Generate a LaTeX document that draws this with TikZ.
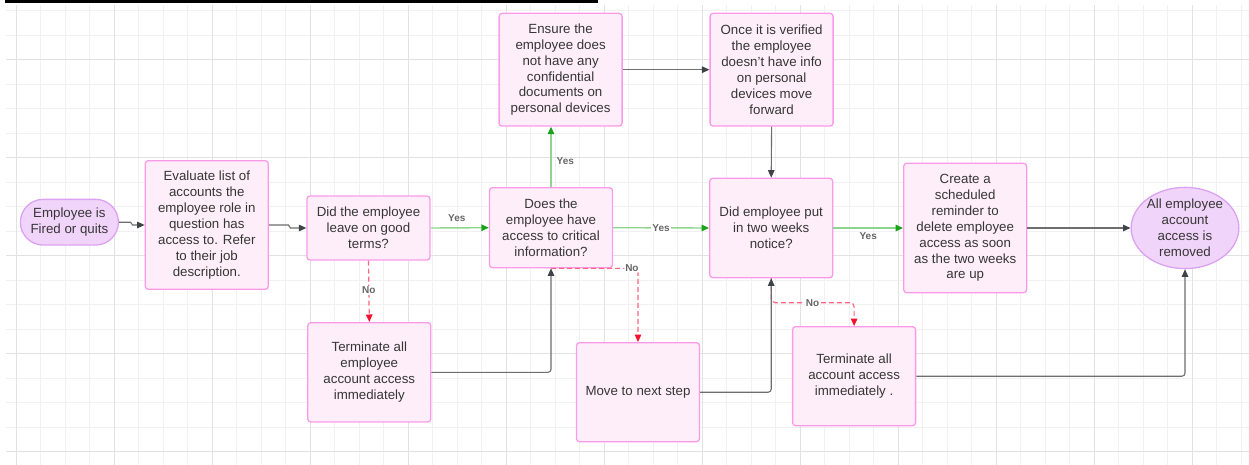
\documentclass[tikz,border=0pt]{standalone}
\usepackage{fontspec}
\setmainfont{Liberation Sans}
\usetikzlibrary{arrows.meta,shapes.geometric}

\definecolor{gridminor}{HTML}{F1F1F1}
\definecolor{gridmajor}{HTML}{E2E2E2}
\definecolor{boxline}{HTML}{FB9BE8}
\definecolor{boxfill}{HTML}{FDEEFA}
\definecolor{termline}{HTML}{DCA2F2}
\definecolor{termfill}{HTML}{F1D4F9}
\definecolor{ink}{HTML}{363636}
\definecolor{flowgray}{HTML}{6E6E6E}
\definecolor{tipgray}{HTML}{3F4347}
\definecolor{yesline}{HTML}{8DD48D}
\definecolor{yestip}{HTML}{18A318}
\definecolor{noline}{HTML}{FF6480}
\definecolor{notip}{HTML}{F5102F}
\definecolor{lbltext}{HTML}{666666}

\tikzset{
  proc/.style={draw=boxline, fill=boxfill, line width=1.3pt, rounded corners=3pt,
    minimum width=123pt, inner sep=2pt, align=center, text=ink,
    font=\fontsize{13.3}{15.9}\selectfont},
  startstop/.style={proc, draw=termline, fill=termfill, rounded corners=22.8pt,
    minimum width=98pt, minimum height=45.7pt},
  endstop/.style={ellipse, draw=termline, fill=termfill, line width=1.3pt,
    minimum width=98pt, minimum height=70pt, inner sep=0pt, align=center, text=ink,
    font=\fontsize{13.3}{15.9}\selectfont},
  plain/.style={draw=flowgray, line width=1.1pt,
    -{Triangle[length=7.5pt,width=6.5pt,color=tipgray]}},
  yes/.style={draw=yesline, line width=1.4pt,
    -{Triangle[length=7.5pt,width=6.5pt,color=yestip]}},
  no/.style={draw=noline, line width=1.2pt, dash pattern=on 5pt off 3pt,
    -{Triangle[length=7.5pt,width=6.5pt,color=notip]}},
  lbl/.style={font=\fontsize{10}{12}\selectfont\bfseries, text=lbltext, inner sep=1pt},
}

\begin{document}
\begin{tikzpicture}[x=1pt,y=-1pt]
\useasboundingbox (0,0) rectangle (1249,465);
\fill[white] (0,0) rectangle (1249,465);

% background grid
\foreach \i in {0,...,50}
  \draw[gridminor, line width=0.8pt] ({16.3+24.5*\i},5) -- ({16.3+24.5*\i},465);
\foreach \j in {0,...,18}
  \draw[gridminor, line width=0.8pt] (6,{451.7-24.5*\j}) -- (1249,{451.7-24.5*\j});
\foreach \i in {0,...,12}
  \draw[gridmajor, line width=1pt] ({16.3+98*\i},5) -- ({16.3+98*\i},465);
\foreach \j in {0,...,4}
  \draw[gridmajor, line width=1pt] (6,{451.7-98*\j}) -- (1249,{451.7-98*\j});

% top rule
\fill[black] (5,0) rectangle (597.5,2.8);

% steps
\node[startstop] (start) at (69.4,222.2) {Employee is\\Fired or quits};
\node[proc, minimum height=128.6pt] (eval) at (206.8,225)
  {Evaluate list of\\accounts the\\employee role in\\question has\\access to. Refer\\to their job\\description.};
\node[proc, minimum height=64pt] (good) at (368.5,228)
  {Did the employee\\leave on good\\terms?};
\node[proc, minimum height=80pt] (crit) at (551,227.7)
  {Does the\\employee have\\access to critical\\information?};
\node[proc, minimum height=112.7pt] (ensure) at (560.6,69.7)
  {Ensure the\\employee does\\not have any\\confidential\\documents on\\personal devices};
\node[proc, minimum height=112.7pt] (verified) at (771.6,69.7)
  {Once it is verified\\the employee\\doesn\char39 t have info\\on personal\\devices move\\forward};
\node[proc, minimum height=99.4pt] (notice) at (771.2,228)
  {Did employee put\\in two weeks\\notice?};
\node[proc, minimum height=129.4pt] (remind) at (965.2,228)
  {Create a\\scheduled\\reminder to\\delete employee\\access as soon\\as the two weeks\\are up};
\node[endstop] (done) at (1185,228)
  {All employee\\account\\access is\\removed};
\node[proc, minimum height=99.3pt] (term1) at (369.3,372.3)
  {Terminate all\\employee\\account access\\immediately};
\node[proc, minimum height=99pt] (next) at (638,392.2) {Move to next step};
\node[proc, minimum height=99pt] (term2) at (854.1,376.2)
  {Terminate all\\account access\\immediately .};

% connectors
\draw[plain] (start.east) -- ++(11.5,0) -- ++(2,2.8) -- (eval.west);
\draw[plain] (eval.east) -- ++(19.5,0) -- ++(2,3) -- (good.west);
\draw[yes] (good.east) -- node[lbl, pos=0.45, above=5pt] {Yes} (crit.west);
\draw[yes] (crit.north) -- node[lbl, pos=0.43, right=4pt] {Yes} (crit.north |- ensure.south);
\draw[plain] (ensure.east) -- (verified.west);
\draw[plain] (verified.south) -- (notice.north);
\draw[yes] (crit.east) -- node[lbl, fill=white, pos=0.5] {Yes} (notice.west);
\draw[yes] (notice.east) -- node[lbl, pos=0.5, below=3pt] {Yes} (remind.west);
\draw[plain] (remind.east) -- (done.west);
\draw[no] (good.south) -- node[lbl, fill=white, pos=0.48] {No} (term1.north);
\draw[plain, rounded corners=3pt] (term1.east) -| (crit.south);
\draw[no, rounded corners=3pt] (crit.south) -- node[lbl, fill=white, pos=0.93] {No}
  (next.north |- crit.south) -- (next.north);
\draw[no, rounded corners=4pt] (notice.south) -- ++(0,24.3)
  -| node[lbl, fill=white, pos=0.25] {No} (term2.north);
\draw[plain, rounded corners=3pt] (next.east) -| (notice.south);
\draw[plain, rounded corners=3pt] (term2.east) -| (done.south);
\end{tikzpicture}
\end{document}
